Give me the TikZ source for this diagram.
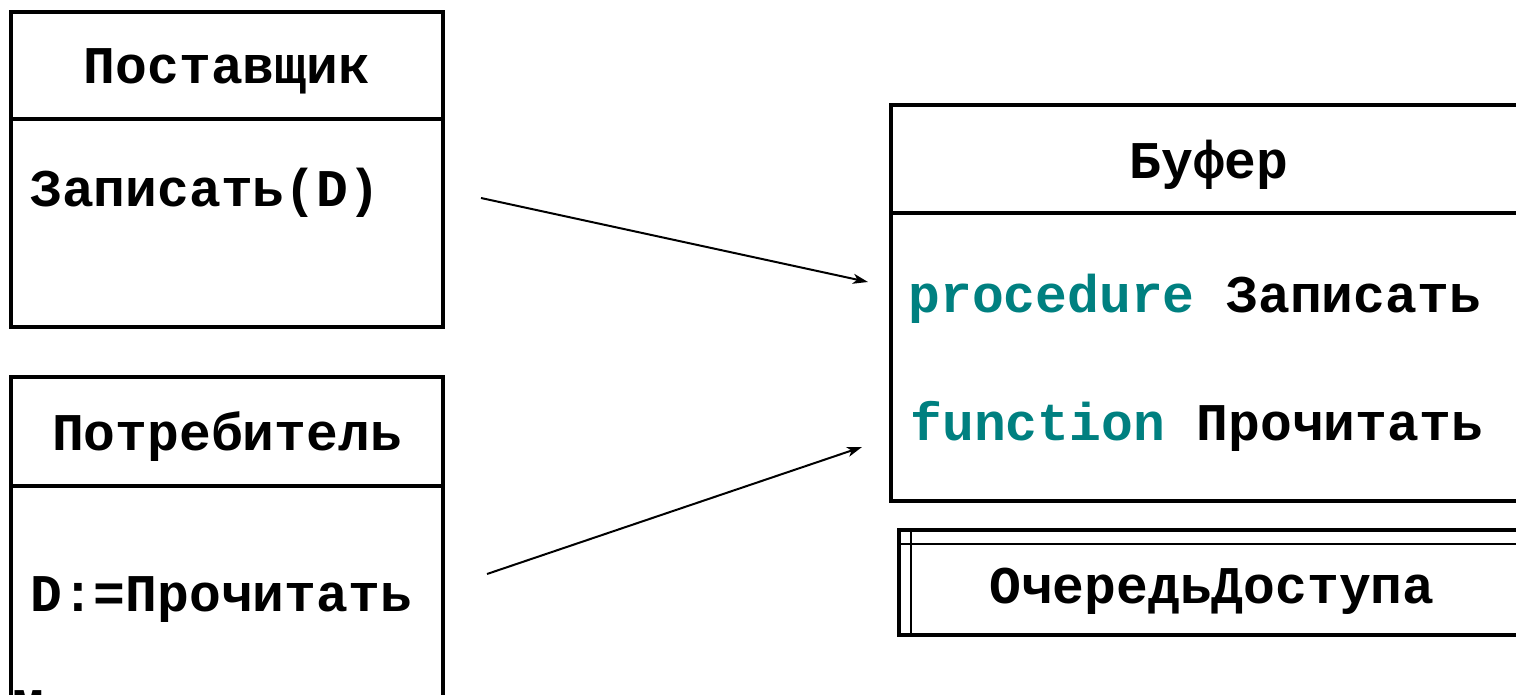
\documentclass[tikz,border=0pt]{standalone}
\usepackage{fontspec}
\newfontfamily\codefont{Liberation Mono}
\usetikzlibrary{arrows.meta,fit}
\definecolor{kw}{RGB}{0,128,128}
\tikzset{
  frame/.style={draw=black, line width=2pt, inner sep=0pt, outer sep=0pt},
  rule/.style={draw=black, line width=2pt},
  thinrule/.style={draw=black, line width=0.8pt},
  code/.style={font=\codefont\bfseries\fontsize{26.5}{30}\selectfont, inner sep=0pt, text=black},
  link/.style={draw=black, line width=1pt, -{Stealth[length=7.5pt,width=5pt,inset=2pt]}},
}
\begin{document}
\begin{tikzpicture}[x=0.5pt,y=-0.5pt]
\useasboundingbox (0,0) rectangle (1516,695);

% Supplier class
\node[frame, fit={(11,12) (443,327)}] (sup) {};
\draw[rule] (11,119) -- (443,119);
\node[code, anchor=base] (supname) at (227,84) {Поставщик};
\node[code, anchor=base west] (supop) at (30,207) {Записать(D)};

% Consumer class
\node[frame, fit={(11,377) (443,760)}] (con) {};
\draw[rule] (11,486) -- (443,486);
\node[code, anchor=base] (conname) at (227,450) {Потребитель};
\node[code, anchor=base west] (conop) at (30,611) {D:=Прочитать};
\node[code, anchor=base west] (conop2) at (12,725) {М};

% Buffer monitor
\node[frame, fit={(891,105) (1540,501)}] (buf) {};
\draw[rule] (891,213) -- (1540,213);
\node[code, anchor=base] (bufname) at (1209,179) {Буфер};
\node[code, anchor=base west] (bufw) at (908,313) {\textcolor{kw}{procedure} Записать};
\node[code, anchor=base west] (bufr) at (910,440) {\textcolor{kw}{function} Прочитать};

% Access queue
\node[frame, fit={(899,530) (1540,635)}] (queue) {};
\draw[thinrule] (911,530) -- (911,635);
\draw[thinrule] (899,544) -- (1540,544);
\node[code, anchor=base] (qname) at (1212,603) {ОчередьДоступа};

% Calls into the monitor
\coordinate (wfrom) at (481,198);
\coordinate (wto) at (868,282);
\coordinate (rfrom) at (487,574);
\coordinate (rto) at (862,447);
\draw[link] (wfrom) -- (wto);
\draw[link] (rfrom) -- (rto);
\end{tikzpicture}
\end{document}
